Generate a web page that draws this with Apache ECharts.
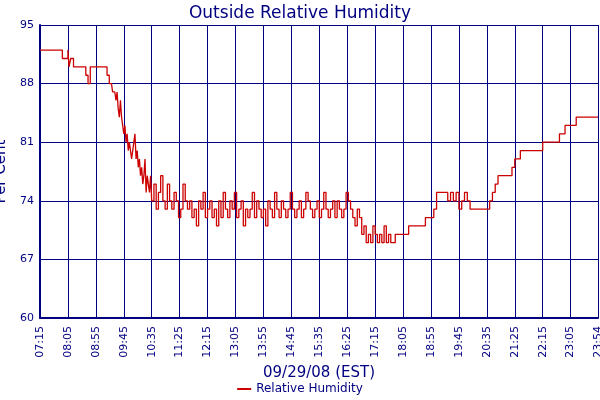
<!DOCTYPE html>
<html><head><meta charset="utf-8">
<script src="https://cdn.jsdelivr.net/npm/echarts@6/dist/echarts.min.js"></script>
<style>html,body{margin:0;padding:0;background:#fff}#c{width:600px;height:400px}</style>
</head><body><div id="c"></div>
<script>
// minutes after 07:15
var minutes = [0,40,44,50,52,55,60,78,82,86,90,116,120,124,128,130,134,136,138,140,142,144,146,148,150,152,154,156,158,160,162,164,166,168,170,172,174,176,178,180,182,184,186,188,190,192,194,196,198,200,204,208,212,216,220,224,228,232,236,240,244,248,252,256,260,264,268,272,276,280,284,288,292,296,300,304,308,312,316,320,324,328,332,336,340,344,348,352,356,360,364,368,372,376,380,384,388,392,396,400,404,408,412,416,420,424,428,432,436,440,444,448,452,456,460,464,468,472,476,480,484,488,492,496,500,504,508,512,516,520,524,528,532,536,540,544,548,552,556,560,564,568,572,576,580,584,588,592,596,600,604,608,612,616,620,624,628,636,650,660,670,680,690,700,705,710,720,730,735,740,745,750,755,760,765,770,780,790,800,805,810,815,820,830,840,845,850,860,870,880,890,900,910,920,930,940,950,960,970,980,999];
var humidity = [92,91,91,92,90,91,90,90,89,88,90,90,89,88,88,87,87,86,87,85,84,86,84,83,82,83,81,82,80,81,80,79,80,81,82,79,80,78,79,77,78,76,77,79,75,77,76,75,77,74,76,73,75,77,74,73,76,74,73,75,74,72,73,76,74,73,74,72,73,71,74,73,75,72,73,74,72,73,71,74,72,75,73,72,74,73,75,72,73,74,71,73,72,73,75,72,74,73,72,73,71,74,73,72,75,73,72,74,73,72,73,75,73,72,73,74,72,73,75,74,73,72,73,74,72,73,75,73,72,73,74,72,74,73,72,73,75,74,73,72,71,73,72,70,71,69,70,69,71,70,69,70,69,71,69,70,69,70,70,71,71,71,72,72,73,75,75,74,75,74,75,73,74,75,74,73,73,73,73,74,75,76,77,77,77,78,79,80,80,80,80,81,81,81,82,83,83,84,84,84,84];
var xLabelFmt = function(v){var m=435+Math.round(v);var h=Math.floor(m/60),mm=m%60;return (h<10?'0':'')+h+':'+(mm<10?'0':'')+mm;};
var yTicks = [60,67,74,81,88,95];
var data = minutes.map(function(t,i){return [t,humidity[i]];});
var navy='#000080';
var chart = echarts.init(document.getElementById('c'));
chart.setOption({
  animation:false,
  title:{text:'Outside Relative Humidity',left:'center',top:0,textStyle:{color:navy,fontSize:17,fontWeight:'normal',fontFamily:'DejaVu Sans'}},
  legend:{bottom:0,left:'center',itemWidth:14,itemHeight:2,icon:'rect',textStyle:{color:navy,fontSize:12,fontFamily:'DejaVu Sans'},data:['Relative Humidity']},
  grid:{left:40,right:2,top:25,bottom:82,containLabel:false,outerBoundsMode:'none'},
  xAxis:{type:'value',min:0,max:999,interval:50,name:'09/29/08 (EST)',nameLocation:'middle',nameGap:46,
    nameTextStyle:{color:navy,fontSize:15,fontFamily:'DejaVu Sans'},
    axisLine:{show:true,lineStyle:{color:navy,width:2}},axisTick:{show:false},
    axisLabel:{rotate:90,color:navy,fontSize:11,fontFamily:'DejaVu Sans',formatter:xLabelFmt,showMaxLabel:true},
    splitLine:{show:true,lineStyle:{color:navy,width:1}}},
  yAxis:{type:'value',min:60,max:95,interval:7,name:'Per Cent',nameLocation:'middle',nameGap:24,
    nameTextStyle:{color:navy,fontSize:15,fontFamily:'DejaVu Sans'},
    axisLine:{show:true,lineStyle:{color:navy,width:2}},axisTick:{show:false},
    axisLabel:{color:navy,fontSize:11,fontFamily:'DejaVu Sans',margin:6},
    splitLine:{show:true,lineStyle:{color:navy,width:1}}},
  series:[{name:'Relative Humidity',type:'line',step:'end',data:data,showSymbol:false,
    lineStyle:{color:'#cc0000',width:1.3},itemStyle:{color:'#cc0000'}}]
});
</script></body></html>
